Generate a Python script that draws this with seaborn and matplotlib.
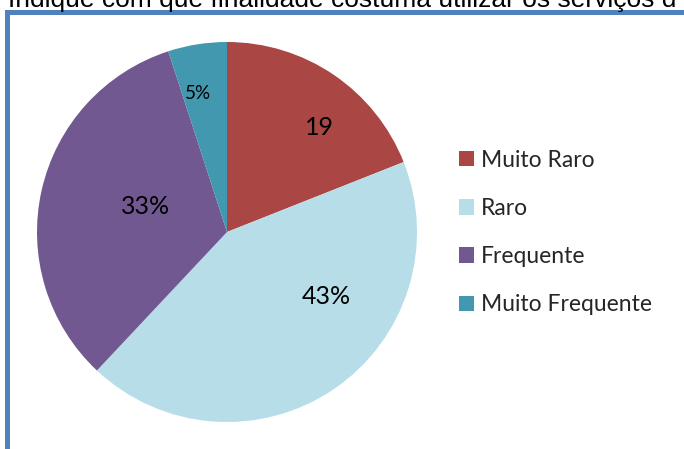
import matplotlib
matplotlib.use("Agg")
import matplotlib.pyplot as plt
import seaborn as sns
from matplotlib.patches import Rectangle

# data
categories = ["Muito Raro", "Raro", "Frequente", "Muito Frequente"]
values = [19, 43, 33, 5]
label_text = ["19", "43%", "33%", "5%"]
title = "Indique com que finalidade costuma utilizar os serviços d"

sns.set_theme(style="white")
plt.rcParams['font.family'] = ['Lato', 'DejaVu Sans']

colors = ["#AA4744", "#B7DDE8", "#725890", "#4198AF"]
# label positions as fraction of radius (Excel best-fit placement)
label_xy = [(0.485, 0.55), (0.525, -0.34), (-0.43, 0.135), (-0.153, 0.727)]

fig = plt.figure(figsize=(6.84, 4.49), dpi=100)
W, H = 684, 449
cx, cy, r = 227, 232, 190
ax = fig.add_axes([(cx - r) / W, (H - cy - r) / H, 2 * r / W, 2 * r / H])

wedges, _ = ax.pie(values, colors=colors, startangle=90, counterclock=False,
                   wedgeprops=dict(linewidth=0))
ax.set_xlim(-1, 1)
ax.set_ylim(-1, 1)
ax.set_aspect('equal')
ax.axis('off')

for txt, (x, y) in zip(label_text, label_xy):
    fs = 13.5 if txt == "5%" else 18
    ax.text(x, y, txt, ha='center', va='center', fontsize=fs, color='black')

leg = fig.legend(wedges, categories, loc='center left',
                 bbox_to_anchor=(459 / W, 1 - 232.5 / H), frameon=False,
                 fontsize=16.5, handlelength=0.66, handleheight=0.66,
                 handletextpad=0.28, labelspacing=1.19, borderpad=0, borderaxespad=0)

# title text cut at the top of the image
fig.text(8 / W, 1 - 7 / H, title, ha='left', va='baseline', fontsize=19,
         family=['Liberation Sans', 'DejaVu Sans'], color='black')

# blue frame of the chart area
fig.add_artist(Rectangle((5 / W, 0), 4.5 / W, 1 - 10 / H, transform=fig.transFigure,
                         facecolor="#4F81BD", edgecolor='none'))
fig.add_artist(Rectangle((5 / W, 1 - 14.5 / H), 1, 4.5 / H, transform=fig.transFigure,
                         facecolor="#4F81BD", edgecolor='none'))

fig.savefig("out.png", dpi=100)
